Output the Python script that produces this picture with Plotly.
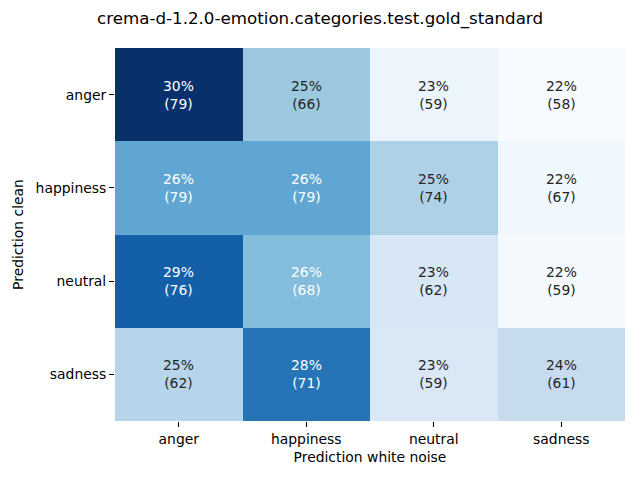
import plotly.graph_objects as go

title = "crema-d-1.2.0-emotion.categories.test.gold_standard"
categories = ["anger", "happiness", "neutral", "sadness"]
counts = [
    [79, 66, 59, 58],
    [79, 79, 74, 67],
    [76, 68, 62, 59],
    [62, 71, 59, 61],
]

pct = [[c / sum(row) * 100 for c in row] for row in counts]

blues = ["#f7fbff", "#deebf7", "#c6dbef", "#9ecae1", "#6baed6",
         "#4292c6", "#2171b5", "#08519c", "#08306b"]
colorscale = [[i / (len(blues) - 1), c] for i, c in enumerate(blues)]

zmin = min(min(r) for r in pct)
zmax = max(max(r) for r in pct)

def hex_to_rgb(h):
    h = h.lstrip("#")
    return tuple(int(h[i:i + 2], 16) / 255 for i in (0, 2, 4))

def interp_color(t):
    t = max(0, min(1, t)) * (len(blues) - 1)
    i = int(t)
    if i >= len(blues) - 1:
        return hex_to_rgb(blues[-1])
    f = t - i
    a, b = hex_to_rgb(blues[i]), hex_to_rgb(blues[i + 1])
    return tuple(a[k] + (b[k] - a[k]) * f for k in range(3))

def lum(rgb):
    def ch(c):
        return c / 12.92 if c <= 0.03928 else ((c + 0.055) / 1.055) ** 2.4
    r, g, b = (ch(c) for c in rgb)
    return 0.2126 * r + 0.7152 * g + 0.0722 * b

fig = go.Figure(go.Heatmap(
    z=pct, x=categories, y=categories,
    colorscale=colorscale, zmin=zmin, zmax=zmax,
    showscale=False, hoverinfo="skip",
))

font_family = "DejaVu Sans"
fs = 13.9
for i, yc in enumerate(categories):
    for j, xc in enumerate(categories):
        t = (pct[i][j] - zmin) / (zmax - zmin)
        color = "white" if lum(interp_color(t)) < 0.52 else "#262626"
        fig.add_annotation(
            x=xc, y=yc, text=f"{pct[i][j]:.0f}%<br>({counts[i][j]})",
            showarrow=False, font=dict(family=font_family, size=fs, color=color),
        )

fig.update_layout(
    width=640, height=480,
    margin=dict(l=115, r=15, t=48, b=59),
    paper_bgcolor="white", plot_bgcolor="white",
    font=dict(family=font_family, size=fs, color="black"),
    title=dict(text=title, x=0.5, xanchor="center", y=0.962, yanchor="middle",
               font=dict(size=16.7, family=font_family, color="black")),
)
fig.update_xaxes(
    title=dict(text="Prediction white noise", font=dict(size=fs), standoff=6),
    ticks="outside", ticklen=5, tickcolor="black", showgrid=False,
    showline=False, zeroline=False, tickfont=dict(size=fs),
)
fig.update_yaxes(
    title=dict(text="Prediction clean", font=dict(size=fs), standoff=8),
    ticks="outside", ticklen=5, tickcolor="black", showgrid=False,
    showline=False, zeroline=False, autorange="reversed", tickfont=dict(size=fs),
)

fig.write_html("out.html", post_script="document.body.style.margin='0';",
               config={"displayModeBar": False})
